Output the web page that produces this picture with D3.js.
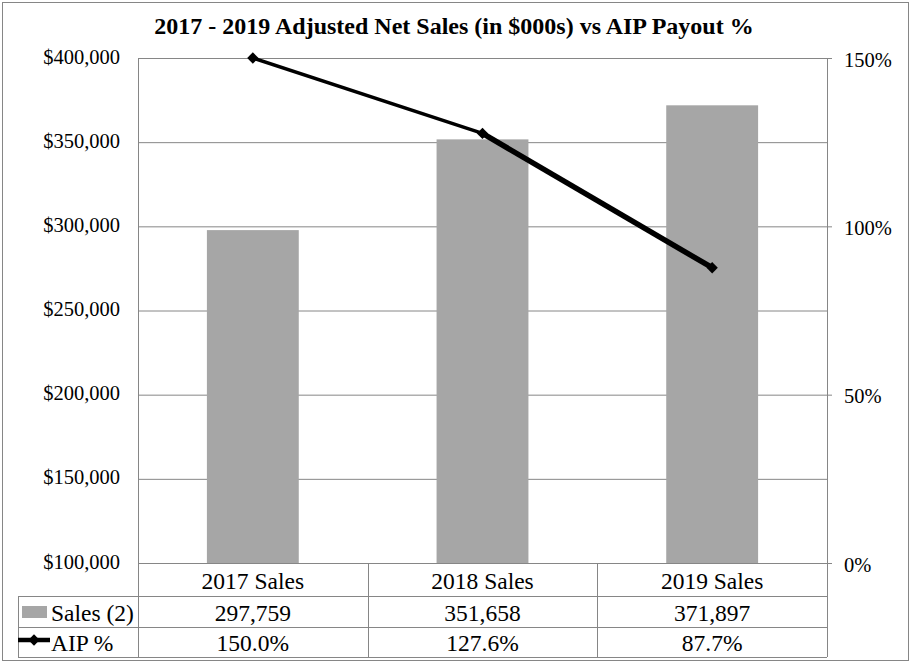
<!DOCTYPE html>
<html><head><meta charset="utf-8">
<script src="https://cdn.jsdelivr.net/npm/d3@7"></script>
<style>body{margin:0;background:#fff}svg text{font-family:"Liberation Serif","Times New Roman",serif;fill:#000}</style>
</head><body><svg id="c" width="912" height="663"></svg>
<script>
const title = "2017 - 2019 Adjusted Net Sales (in $000s) vs AIP Payout %";
const categories = ["2017 Sales", "2018 Sales", "2019 Sales"];
const sales = [297759, 351658, 371897];
const aip = [1.5, 1.276, 0.877];
const salesTicks = [100000, 150000, 200000, 250000, 300000, 350000, 400000];
const aipTicks = [0, 0.5, 1, 1.5];
const seriesNames = ["Sales (2)", "AIP %"];
const salesLabels = ["297,759", "351,658", "371,897"];
const aipLabels = ["150.0%", "127.6%", "87.7%"];

const svg = d3.select("#c");
const L = 138, R = 827, T = 58, B = 563;
const rowY = [563, 596, 627, 657];
const gridColor = "#868686";
const barColor = "#a6a6a6";

const x = d3.scaleBand().domain(categories).range([L, R]).padding(0);
const y = d3.scaleLinear().domain([100000, 400000]).range([B, T]);
const y2 = d3.scaleLinear().domain([0, 1.5]).range([B, T]);

// outer frame
svg.append("rect").attr("x", 2.5).attr("y", 2.5).attr("width", 906).attr("height", 658)
  .attr("fill", "#fff").attr("stroke", gridColor).attr("stroke-width", 1);

// title
svg.append("text").attr("x", 454).attr("y", 26).attr("text-anchor", "middle")
  .attr("dominant-baseline", "central").attr("font-weight", "bold").attr("font-size", 24)
  .text(title);

// gridlines
svg.append("g").selectAll("line").data(salesTicks.filter(d => d > 100000)).join("line")
  .attr("x1", L).attr("x2", R).attr("y1", d => y(d) + 0.5).attr("y2", d => y(d) + 0.5)
  .attr("stroke", gridColor);

// left axis
const la = svg.append("g").attr("transform", `translate(${L},0)`)
  .call(d3.axisLeft(y).tickValues(salesTicks).tickFormat(d => "$" + d3.format(",")(d)).tickSize(0).tickPadding(18));
la.select(".domain").remove();
la.selectAll("text").attr("font-size", 20.5).attr("font-family", null).attr("dy", "0.25em");

// right axis
const ra = svg.append("g").attr("transform", `translate(${R},0)`)
  .call(d3.axisRight(y2).tickValues(aipTicks).tickFormat(d3.format(".0%")).tickSizeInner(5).tickSizeOuter(0).tickPadding(12));
ra.select(".domain").remove();
ra.selectAll("line").attr("stroke", gridColor);
ra.selectAll("text").attr("font-size", 20.5).attr("font-family", null).attr("dy", "0.4em");

// bars
const bw = x.bandwidth() * 0.4;
svg.append("g").selectAll("rect").data(sales).join("rect")
  .attr("x", (d, i) => x(categories[i]) + (x.bandwidth() - bw) / 2)
  .attr("width", bw)
  .attr("y", d => y(d)).attr("height", d => B - y(d))
  .attr("fill", barColor);

// table lines
const tg = svg.append("g").attr("stroke", gridColor).attr("stroke-width", 1);
tg.append("line").attr("x1", L + 0.5).attr("x2", L + 0.5).attr("y1", T).attr("y2", rowY[3]);
tg.append("line").attr("x1", R + 0.5).attr("x2", R + 0.5).attr("y1", T).attr("y2", rowY[3]);
tg.append("line").attr("x1", 18.5).attr("x2", 18.5).attr("y1", rowY[1]).attr("y2", rowY[3]);
tg.append("line").attr("x1", L).attr("x2", R + 5).attr("y1", rowY[0] + 0.5).attr("y2", rowY[0] + 0.5);
[1, 2, 3].forEach(k => tg.append("line").attr("x1", 18).attr("x2", R).attr("y1", rowY[k] + 0.5).attr("y2", rowY[k] + 0.5));
categories.slice(1).forEach(c => tg.append("line").attr("x1", Math.round(x(c)) + 0.5).attr("x2", Math.round(x(c)) + 0.5).attr("y1", rowY[0]).attr("y2", rowY[3]));

// table text
const cx = c => x(c) + x.bandwidth() / 2;
const rows = [categories, salesLabels, aipLabels];
rows.forEach((r, k) => {
  svg.append("g").selectAll("text").data(r).join("text")
    .attr("x", (d, i) => cx(categories[i]))
    .attr("y", (rowY[k] + rowY[k + 1]) / 2 + 1)
    .attr("text-anchor", "middle").attr("dominant-baseline", "central")
    .attr("font-size", 23.5).text(d => d);
});

// legend keys
svg.append("rect").attr("x", 22).attr("y", 606).attr("width", 25).attr("height", 12).attr("fill", barColor);
svg.append("line").attr("x1", 18).attr("x2", 50).attr("y1", 640).attr("y2", 640).attr("stroke", "#000").attr("stroke-width", 4.5);
svg.append("path").attr("d", d3.symbol(d3.symbolSquare, 64)()).attr("transform", "translate(34,640) rotate(45)").attr("fill", "#000");
svg.append("text").attr("x", 51).attr("y", (rowY[1] + rowY[2]) / 2 + 1).attr("dominant-baseline", "central").attr("font-size", 23.5).text(seriesNames[0]);
svg.append("text").attr("x", 51).attr("y", (rowY[2] + rowY[3]) / 2 + 1).attr("dominant-baseline", "central").attr("font-size", 23.5).text(seriesNames[1]);

// AIP line
const pts = aip.map((v, i) => [cx(categories[i]), y2(v)]);
const segW = [3.5, 5.5];
for (let i = 0; i < pts.length - 1; i++) {
  svg.append("path").attr("d", d3.line()([pts[i], pts[i + 1]]))
    .attr("fill", "none").attr("stroke", "#000").attr("stroke-width", segW[i]);
}
svg.append("g").selectAll("path").data(pts).join("path")
  .attr("d", d3.symbol(d3.symbolSquare, 64)())
  .attr("transform", d => `translate(${d[0]},${d[1]}) rotate(45)`)
  .attr("fill", "#000");
</script></body></html>
